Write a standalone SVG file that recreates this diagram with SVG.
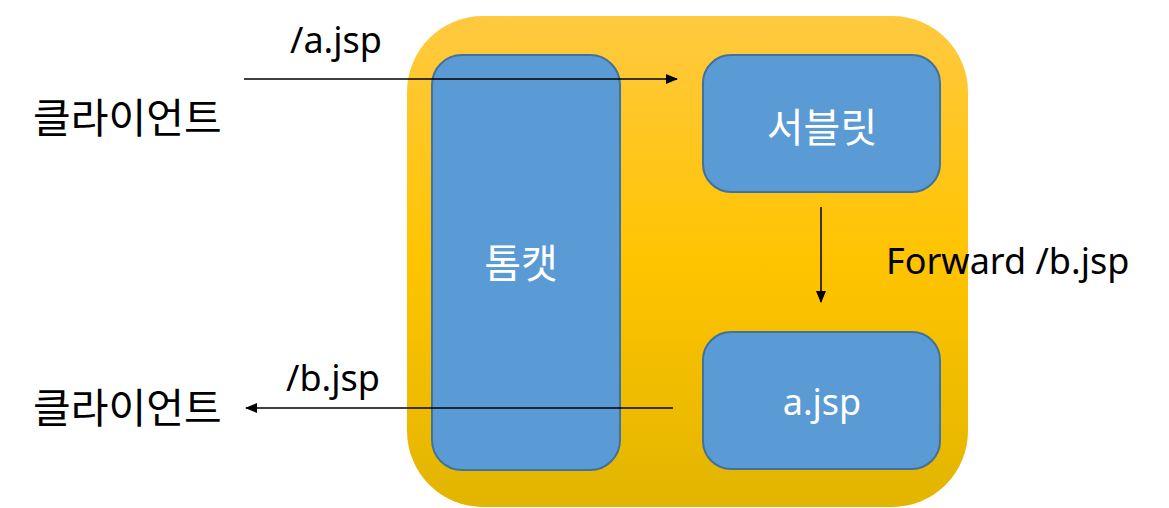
<svg xmlns="http://www.w3.org/2000/svg" width="1169" height="508" viewBox="0 0 1169 508">
<defs>
<linearGradient id="bg" x1="0" y1="0" x2="0" y2="1">
<stop offset="0" stop-color="#FFC940"/>
<stop offset="0.5" stop-color="#FFC400"/>
<stop offset="1" stop-color="#E2B500"/>
</linearGradient>
<marker id="ah" markerWidth="12" markerHeight="10" refX="11" refY="5" orient="auto" markerUnits="userSpaceOnUse">
<path d="M0,0 L12,5 L0,10 z" fill="#000"/>
</marker>
</defs>
<style>
.box{fill:#5B9BD5;stroke:#41719C;stroke-width:2}
.t{font-family:"Noto Sans","Noto Sans CJK KR",sans-serif;font-size:36px;fill:#000}
.k{font-family:"Noto Sans CJK KR",sans-serif;font-size:41px;fill:#000}
.w{font-family:"Noto Sans CJK KR",sans-serif;font-size:40px;fill:#fff;text-anchor:middle}
.wl{font-family:"Noto Sans",sans-serif;font-size:36px;fill:#fff;text-anchor:middle}
.ln{stroke:#000;stroke-width:1.5;fill:none}
</style>
<g id="container"><rect x="407" y="16" width="561" height="491" rx="76" fill="url(#bg)"/></g>
<g id="tomcat"><rect class="box" x="432" y="55" width="188" height="415" rx="30"/><text class="w" x="521" y="278">톰캣</text></g>
<g id="servlet"><rect class="box" x="703" y="55" width="237" height="137" rx="28"/><text class="w" x="822" y="142">서블릿</text></g>
<g id="ajsp"><rect class="box" x="703" y="332" width="237" height="137" rx="28"/><text class="wl" x="822" y="415">a.jsp</text></g>
<g id="client1"><text class="k" x="33" y="133">클라이언트</text></g>
<g id="client2"><text class="k" x="33" y="423">클라이언트</text></g>
<g id="connectors">
<line class="ln" x1="244" y1="79" x2="677" y2="79" marker-end="url(#ah)"/>
<line class="ln" x1="673" y1="408" x2="246" y2="408" marker-end="url(#ah)"/>
<line class="ln" x1="821" y1="207" x2="821" y2="302" marker-end="url(#ah)"/>
<text class="t" x="290" y="53">/a.jsp</text>
<text class="t" x="286" y="391">/b.jsp</text>
<text class="t" x="886" y="274">Forward /b.jsp</text>
</g>
</svg>
